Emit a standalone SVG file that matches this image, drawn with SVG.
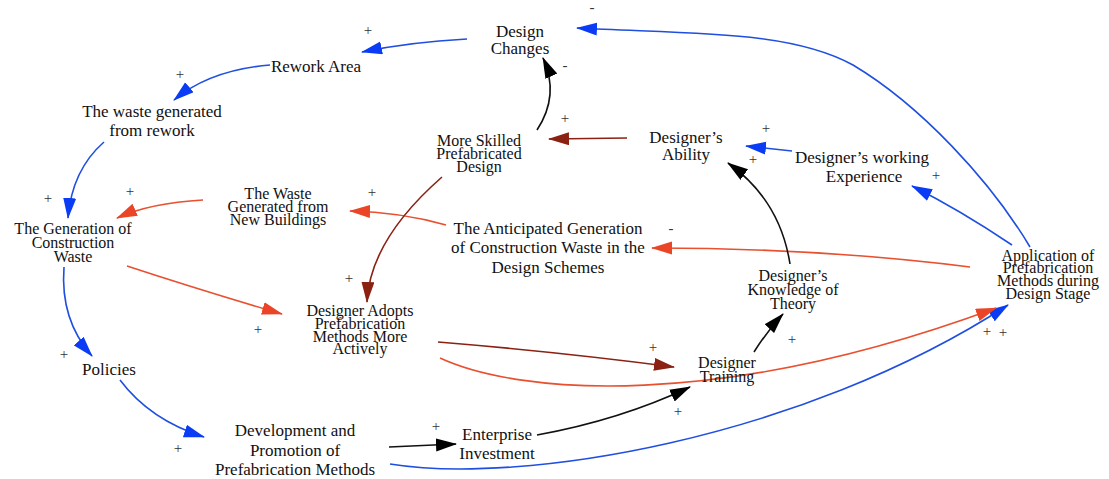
<svg xmlns="http://www.w3.org/2000/svg" width="1109" height="479" viewBox="0 0 1109 479" font-family="'Liberation Serif', 'Times New Roman', serif">
<style>
text{font-family:'Liberation Serif','Times New Roman',serif;font-size:17px;fill:#111;text-anchor:middle}
.t{font-size:16px}
.s{font-size:15px;fill:#333}
.b{stroke:#1f4fe0;fill:none;stroke-width:1.6}
.r{stroke:#e8502f;fill:none;stroke-width:1.6}
.d{stroke:#8a2112;fill:none;stroke-width:1.6}
.k{stroke:#111;fill:none;stroke-width:1.6}
</style>
<defs>
<marker id="ab" markerUnits="userSpaceOnUse" markerWidth="22" markerHeight="14" refX="20" refY="6.5" orient="auto"><path d="M0,0 L21,6.5 L0,13 z" fill="#0a3cf5"/></marker>
<marker id="ar" markerUnits="userSpaceOnUse" markerWidth="22" markerHeight="14" refX="20" refY="6.5" orient="auto"><path d="M0,0 L21,6.5 L0,13 z" fill="#ea4526"/></marker>
<marker id="ad" markerUnits="userSpaceOnUse" markerWidth="22" markerHeight="14" refX="20" refY="6.5" orient="auto"><path d="M0,0 L21,6.5 L0,13 z" fill="#8a2112"/></marker>
<marker id="ak" markerUnits="userSpaceOnUse" markerWidth="22" markerHeight="14" refX="20" refY="6.5" orient="auto"><path d="M0,0 L21,6.5 L0,13 z" fill="#000"/></marker>
</defs>
<g id="connectors">
<path class="b" d="M1030 247 C990 180 920 105 853 65 C790 30 690 34 577 28" marker-end="url(#ab)"/>
<path class="b" d="M467 39 Q410 42 362 52" marker-end="url(#ab)"/>
<path class="b" d="M270 65 Q210 70 174 100" marker-end="url(#ab)"/>
<path class="b" d="M104 142 Q72 170 68 218" marker-end="url(#ab)"/>
<path class="r" d="M203 200 Q150 203 117 218" marker-end="url(#ar)"/>
<path class="r" d="M446 225 Q400 212 350 211" marker-end="url(#ar)"/>
<path class="r" d="M970 267 Q820 248 652 248" marker-end="url(#ar)"/>
<path class="b" d="M1012 245 Q960 210 912 186" marker-end="url(#ab)"/>
<path class="b" d="M792 151 L746 146" marker-end="url(#ab)"/>
<path class="k" d="M790 264 Q780 200 728 163" marker-end="url(#ak)"/>
<path class="d" d="M627 138 L549 139" marker-end="url(#ad)"/>
<path class="k" d="M537 130 Q560 95 543 58" marker-end="url(#ak)"/>
<path class="d" d="M442 177 Q370 240 367 302" marker-end="url(#ad)"/>
<path class="r" d="M127 266 Q200 290 282 314" marker-end="url(#ar)"/>
<path class="b" d="M64 267 Q60 320 92 356" marker-end="url(#ab)"/>
<path class="b" d="M120 380 Q150 420 204 437" marker-end="url(#ab)"/>
<path class="k" d="M389 447 L456 444" marker-end="url(#ak)"/>
<path class="k" d="M537 435 Q620 420 690 387" marker-end="url(#ak)"/>
<path class="b" d="M390 464 C520 485 800 440 1008 305" marker-end="url(#ab)"/>
<path class="r" d="M440 358 C520 395 720 410 996 308" marker-end="url(#ar)"/>
<path class="d" d="M438 342 Q560 352 674 367" marker-end="url(#ad)"/>
<path class="k" d="M754 352 Q768 330 783 314" marker-end="url(#ak)"/>
<text class="s" x="592" y="12">-</text>
<text class="s" x="368" y="35">+</text>
<text class="s" x="180" y="79">+</text>
<text class="s" x="48" y="203">+</text>
<text class="s" x="130" y="196">+</text>
<text class="s" x="372" y="197">+</text>
<text class="s" x="671" y="233">-</text>
<text class="s" x="936" y="180">+</text>
<text class="s" x="766" y="133">+</text>
<text class="s" x="753" y="164">+</text>
<text class="s" x="565" y="123">+</text>
<text class="s" x="565" y="70">-</text>
<text class="s" x="349" y="283">+</text>
<text class="s" x="258" y="334">+</text>
<text class="s" x="64" y="359">+</text>
<text class="s" x="178" y="453">+</text>
<text class="s" x="436" y="431">+</text>
<text class="s" x="678" y="416">+</text>
<text class="s" x="987" y="336">+</text>
<text class="s" x="1003" y="337">+</text>
<text class="s" x="653" y="352">+</text>
<text class="s" x="792" y="344">+</text>
</g>
<g id="design-changes"><text x="520" y="37">Design</text><text x="520" y="54">Changes</text></g>
<g id="rework-area"><text x="316" y="72">Rework Area</text></g>
<g id="waste-rework"><text x="152" y="117">The waste generated</text><text x="152" y="136">from rework</text></g>
<g id="generation"><text class="t" x="73" y="234">The Generation of</text><text class="t" x="73" y="248">Construction</text><text class="t" x="73" y="262">Waste</text></g>
<g id="waste-new"><text class="t" x="278" y="199">The Waste</text><text class="t" x="278" y="212">Generated from</text><text class="t" x="278" y="225">New Buildings</text></g>
<g id="more-skilled"><text class="t" x="479" y="146">More Skilled</text><text class="t" x="479" y="159">Prefabricated</text><text class="t" x="479" y="172">Design</text></g>
<g id="ability"><text x="686" y="143">Designer’s</text><text x="686" y="160">Ability</text></g>
<g id="experience"><text x="862" y="163">Designer’s working</text><text x="864" y="182">Experience</text></g>
<g id="anticipated"><text x="548" y="234">The Anticipated Generation</text><text x="548" y="253">of Construction Waste in the</text><text x="548" y="273">Design Schemes</text></g>
<g id="application"><text class="t" x="1048" y="261">Application of</text><text class="t" x="1048" y="273">Prefabrication</text><text class="t" x="1048" y="286">Methods during</text><text class="t" x="1048" y="299">Design Stage</text></g>
<g id="knowledge"><text class="t" x="793" y="281">Designer’s</text><text class="t" x="793" y="295">Knowledge of</text><text class="t" x="793" y="309">Theory</text></g>
<g id="adopts"><text class="t" x="360" y="316">Designer Adopts</text><text class="t" x="360" y="329">Prefabrication</text><text class="t" x="360" y="342">Methods More</text><text class="t" x="360" y="354">Actively</text></g>
<g id="training"><text class="t" x="727" y="368">Designer</text><text class="t" x="727" y="382">Training</text></g>
<g id="policies"><text x="109" y="375">Policies</text></g>
<g id="development"><text x="295" y="436">Development and</text><text x="295" y="456">Promotion of</text><text x="295" y="475">Prefabrication Methods</text></g>
<g id="investment"><text x="497" y="440">Enterprise</text><text x="497" y="459">Investment</text></g>
</svg>
